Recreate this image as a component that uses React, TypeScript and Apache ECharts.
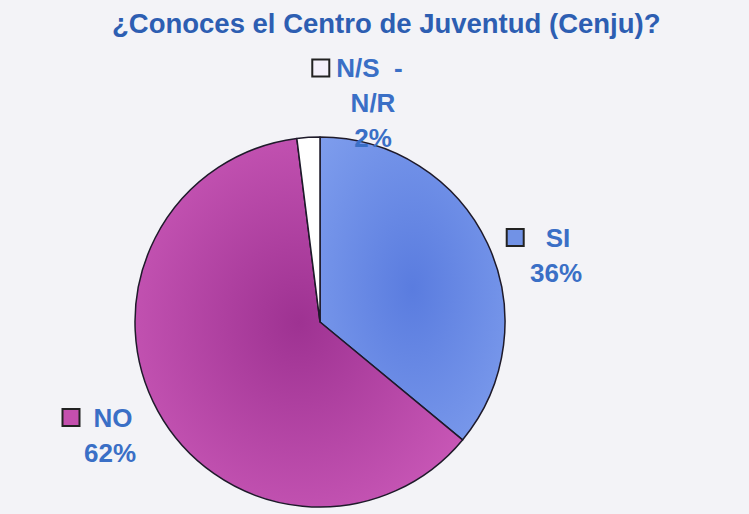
import React, { useEffect, useRef } from "react";
import * as echarts from "echarts";

const TITLE = "¿Conoces el Centro de Juventud (Cenju)?";
const categories = ["SI", "NO", "N/S - N/R"];
const values = [36, 62, 2];
const sliceColors = ["#7192e6", "#c44fae", "#ffffff"];
const labelLines = [["SI"], ["NO"], ["N/S  -", "N/R"]];

const FONT = 'Arial, "Liberation Sans", Helvetica, sans-serif';
const LABEL_BLUE = "#3a6fc6";

export default function App() {
  const ref = useRef<HTMLDivElement>(null);

  useEffect(() => {
    if (!ref.current) return;
    const chart = echarts.init(ref.current, null, { renderer: "svg" });

    const labelPos = [
      { x: 556, y: 255 },
      { x: 110, y: 435 },
      { x: 373, y: 103 },
    ];
    const gaps = [23, 15, 8];
    const trail = [34, 24, 30];

    const data = categories.map((name, i) => {
      const base = sliceColors[i];
      const color =
        i === 2
          ? base
          : new echarts.graphic.RadialGradient(0.5, 0.5, 0.7, [
              { offset: 0, color: i === 0 ? "#5a7cdf" : "#9e3292" },
              { offset: 1, color: i === 0 ? "#7e9ded" : "#cf5dbc" },
            ]);
      const lines = labelLines[i];
      const first = `{sq${i}|}{g${i}|}{t|${lines[0]}}{s${i}|}`;
      const rest = lines.slice(1).map((l) => `{t|${l}}`);
      const text = [first, ...rest, `{t|${values[i]}%}`].join("\n");
      return {
        name,
        value: values[i],
        itemStyle: { color },
        label: {
          formatter: () => text,
        },
      };
    });

    const rich: any = {
      t: {
        fontFamily: FONT,
        fontSize: 26,
        fontWeight: "bold",
        color: LABEL_BLUE,
        lineHeight: 35,
      },
    };
    sliceColors.forEach((c, i) => {
      rich[`sq${i}`] = {
        width: 15,
        height: 15,
        backgroundColor: i === 2 ? "#f4f0fa" : c,
        borderColor: "#222",
        borderWidth: 2,
        lineHeight: 35,
      };
      rich[`g${i}`] = { width: gaps[i], lineHeight: 35 };
      rich[`s${i}`] = { width: trail[i], lineHeight: 35 };
    });

    chart.setOption({
      animation: false,
      backgroundColor: "#f3f3f7",
      title: {
        text: TITLE,
        left: 112,
        top: 9,
        padding: 0,
        textStyle: {
          fontFamily: FONT,
          fontSize: 27.5,
          fontWeight: "bold",
          color: "#2d5eb2",
        },
      },
      series: [
        {
          type: "pie",
          center: [320, 322],
          radius: 185,
          startAngle: 90,
          clockwise: true,
          data,
          itemStyle: { borderColor: "#1e1a2a", borderWidth: 1.5 },
          label: {
            show: true,
            position: "outside",
            rich,
            align: "center",
          },
          labelLine: { show: false },
          labelLayout: (params: any) => ({
            x: labelPos[params.dataIndex].x,
            y: labelPos[params.dataIndex].y,
            align: "center",
            verticalAlign: "middle",
          }),
          emphasis: { disabled: true },
        },
      ],
    });

    return () => chart.dispose();
  }, []);

  return (
    <div
      ref={ref}
      style={{ position: "fixed", left: 0, top: 0, width: 749, height: 514 }}
    />
  );
}
